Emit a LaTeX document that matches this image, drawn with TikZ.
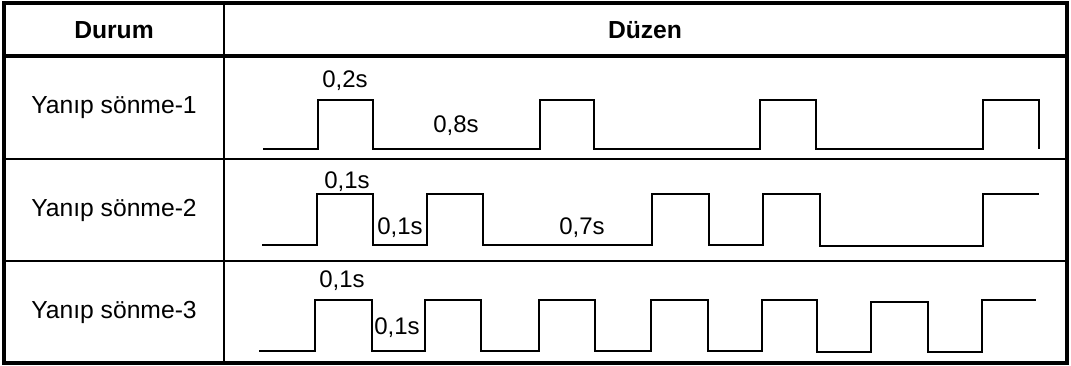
\documentclass[tikz,border=0pt]{standalone}
\usepackage{fontspec}
\setmainfont{Liberation Sans}
\usetikzlibrary{positioning}

\begin{document}
\begin{tikzpicture}[
  x=0.75pt, y=-0.75pt,
  frame/.style={line width=2.6pt},
  headline/.style={line width=2.4pt},
  rowline/.style={line width=2pt},
  colline/.style={line width=1.5pt},
  wave/.style={line width=1.3pt, line join=miter},
  head/.style={font=\fontsize{18.5}{22}\selectfont\bfseries},
  cell/.style={font=\fontsize{18.5}{22}\selectfont},
  dur/.style={font=\fontsize{18}{22}\selectfont, inner sep=1pt},
]
\useasboundingbox (0,0) rectangle (1071,365);

% ===== Table grid =====
\draw[frame] (4,3) rectangle (1067,363);
\draw[headline] (4,56) -- (1067,56);
\draw[rowline] (4,159) -- (1067,159);
\draw[rowline] (4,261) -- (1067,261);
\draw[colline] (224,3) -- (224,363);

% ===== Header =====
\node[head] (hdurum) at (114,30) {Durum};
\node[head] (hduzen) at (645,30) {Düzen};

% ===== Row labels =====
\node[cell] (mode1) at (114,108) {Yanıp sönme-1};
\node[cell] (mode2) at (114,210) {Yanıp sönme-2};
\node[cell] (mode3) at (114,312) {Yanıp sönme-3};

% ===== Yanip sonme-1 : 0,2s on / 0,8s off =====
\draw[wave] (263,149) -- (318,149) -- (318,100) -- (373,100) -- (373,149)
  -- (540,149) -- (540,100) -- (594,100) -- (594,149)
  -- (760,149) -- (760,100) -- (816,100) -- (816,149)
  -- (983,149) -- (983,100) -- (1039,100) -- (1039,149);
\node[dur] (on1) at (345,81) {0,2s};
\node[dur] (off1) at (456,126) {0,8s};

% ===== Yanip sonme-2 : 0,1s on / 0,1s off / 0,1s on / 0,7s off =====
\draw[wave] (262,245) -- (317,245) -- (317,194) -- (373,194) -- (373,245)
  -- (427,245) -- (427,194) -- (483,194) -- (483,245)
  -- (652,245) -- (652,194) -- (709,194) -- (709,245)
  -- (763,245) -- (763,194) -- (820,194) -- (820,246)
  -- (983,246) -- (983,194) -- (1039,194);
\node[dur] (on2) at (347,182) {0,1s};
\node[dur] (off2) at (400,228) {0,1s};
\node[dur] (pause2) at (582,228) {0,7s};

% ===== Yanip sonme-3 : 0,1s on / 0,1s off =====
\draw[wave] (259,351) -- (315,351) -- (315,300) -- (372,300) -- (372,351)
  -- (425,351) -- (425,300) -- (481,300) -- (481,351)
  -- (539,351) -- (539,300) -- (595,300) -- (595,351)
  -- (651,351) -- (651,300) -- (708,300) -- (708,351)
  -- (762,351) -- (762,300) -- (817,300) -- (817,352)
  -- (871,352) -- (871,302) -- (928,302) -- (928,352)
  -- (982,352) -- (982,300) -- (1036,300);
\node[dur] (on3) at (342,281) {0,1s};
\node[dur] (off3) at (397,328) {0,1s};

\end{tikzpicture}
\end{document}
